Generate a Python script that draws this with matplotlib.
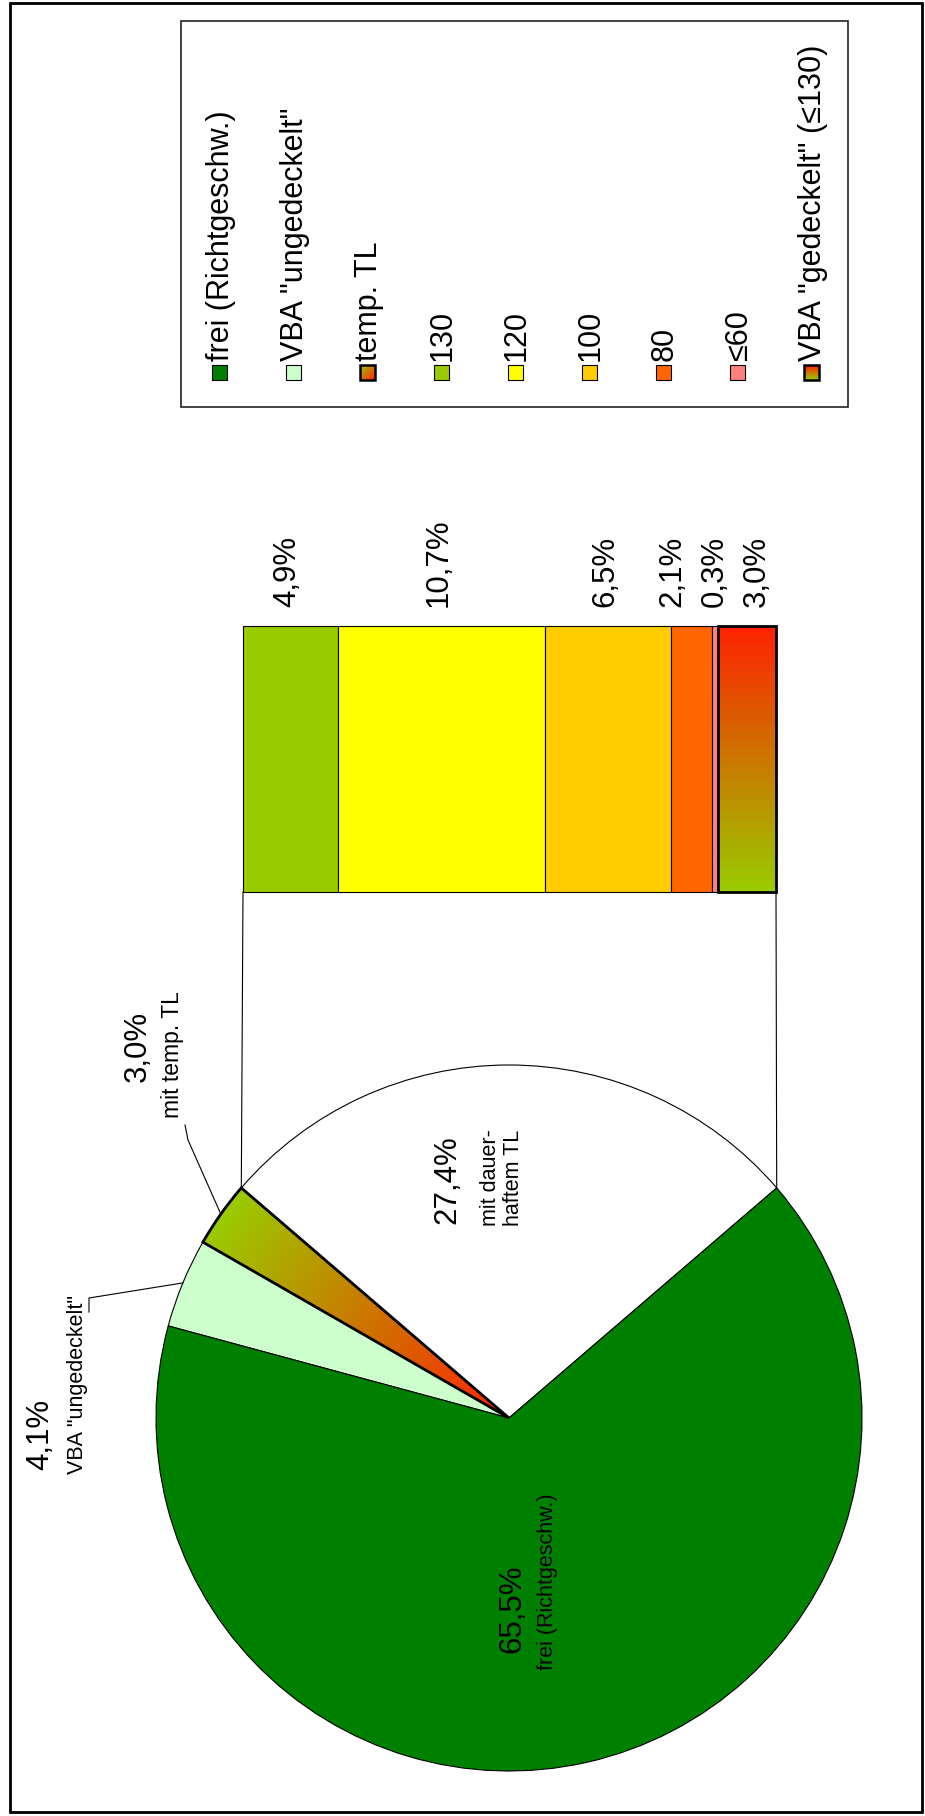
import matplotlib
matplotlib.use('Agg')
import matplotlib.pyplot as plt
import numpy as np
from matplotlib.patches import Rectangle
from matplotlib.colors import to_rgb

plt.rcParams['font.family'] = ['Liberation Sans', 'DejaVu Sans']

# Pie shares, counter-clockwise starting with the part that is broken out into the bar
pie_pct = [27.4, 3.0, 4.1, 65.5]
pie_names = ['mit dauer-\nhaftem TL', 'mit temp. TL', 'VBA "ungedeckelt"', 'frei (Richtgeschw.)']
pie_colors = ['white', 'none', '#CCFFCC', '#008000']

# Breakdown of the 27,4 % (bar)
bar_names = ['130', '120', '100', '80', '≤60', 'VBA "gedeckelt" (≤130)']
bar_pct = [4.9, 10.7, 6.5, 2.1, 0.3, 3.0]
bar_colors = ['#99CC00', '#FFFF00', '#FFCC00', '#FF6600', '#FF8080', 'none']

legend_labels = ['frei (Richtgeschw.)', 'VBA "ungedeckelt"', 'temp. TL', '130', '120',
                 '100', '80', '≤60', 'VBA "gedeckelt" (≤130)']
legend_colors = ['#008000', '#CCFFCC', 'diag', '#99CC00', '#FFFF00', '#FFCC00',
                 '#FF6600', '#FF8080', 'vert']

GRAD_RED = '#FF2200'
GRAD_GREEN = '#99CC00'
BIG = 22.5
SMALL = 15.5


def pct(v):
    return f'{v:.1f}%'.replace('.', ',')


def blend(c0, c1, t):
    a = np.array(to_rgb(c0))
    b = np.array(to_rgb(c1))
    t = np.clip(t, 0, 1)[..., None]
    return a * (1 - t) + b * t


fig = plt.figure(figsize=(9.25, 18.16), dpi=100)
ax = fig.add_axes([0, 0, 1, 1])

# ---- pie (y axis is inverted later, so angles run clockwise in data space)
cx, cy, r = 509, 1418, 353
start = 90 - pie_pct[0] * 3.6 / 2
wedges, _ = ax.pie(pie_pct, colors=pie_colors, center=(cx, cy), radius=r,
                   startangle=-start, counterclock=False,
                   wedgeprops=dict(edgecolor='black', linewidth=0.8))
temp_w = wedges[1]
temp_w.set_linewidth(2.0)
temp_w.set_zorder(3)

# radial gradient inside the temp. TL wedge
xs = np.linspace(cx - r, cx, 300)
ys = np.linspace(cy - r, cy, 300)
gx, gy = np.meshgrid(xs, ys)
tt = np.hypot(gx - cx, gy - cy) / r
im = ax.imshow(blend(GRAD_RED, GRAD_GREEN, tt), extent=(xs[0], xs[-1], ys[-1], ys[0]),
               origin='upper', aspect='auto', zorder=2, interpolation='bilinear')
im.set_clip_path(temp_w)

# screen angles of wedge boundaries
bounds = start + np.concatenate([[0], np.cumsum(pie_pct)]) * 3.6


def rim(angle):
    a = np.deg2rad(angle)
    return cx + r * np.cos(a), cy - r * np.sin(a)


# ---- bar
bar_x0, bar_len = 243, 533
bar_top, bar_bot = 626, 892
scale = bar_len / sum(bar_pct)
widths = np.array(bar_pct) * scale
lefts = bar_x0 + np.concatenate([[0], np.cumsum(widths)[:-1]])
bars = ax.barh((bar_top + bar_bot) / 2, widths, left=lefts, height=bar_bot - bar_top,
               color=bar_colors, edgecolor='black', linewidth=0.8, zorder=3)
ged = bars[-1]
ged.set_linewidth(2.0)
ged.set_zorder(4)
gy2 = np.linspace(0, 1, 200)[:, None] * np.ones((1, 2))
ax.imshow(blend(GRAD_RED, GRAD_GREEN, gy2),
          extent=(lefts[-1], lefts[-1] + widths[-1], bar_bot, bar_top),
          origin='upper', aspect='auto', zorder=3, interpolation='bilinear')

# bar value labels, spread apart where segments are thin
pos = lefts + widths / 2
gap = 42
for _ in range(300):
    for i in range(len(pos) - 1):
        d = pos[i + 1] - pos[i]
        if d < gap:
            s = (gap - d) / 2
            pos[i] -= s
            pos[i + 1] += s
for x, v in zip(pos, bar_pct):
    ax.text(x - 3, 607, pct(v), rotation=90, ha='center', va='bottom', fontsize=BIG)

# connector lines between pie and bar
lx, ly = rim(bounds[1])
rx, ry = rim(bounds[0])
ax.plot([bar_x0, lx], [bar_bot, ly], color='black', lw=0.8, zorder=1)
ax.plot([bar_x0 + bar_len, rx], [bar_bot, ry], color='black', lw=0.8, zorder=1)

# ---- pie labels
ax.text(447, 1224, pct(pie_pct[0]), rotation=90, ha='center', va='bottom', fontsize=BIG)
ax.text(502, 1226, pie_names[0], rotation=90, ha='center', va='bottom', fontsize=SMALL,
        multialignment='left', linespacing=1.15)

ax.text(138, 1082, pct(pie_pct[1]), rotation=90, ha='center', va='bottom', fontsize=BIG)
ax.text(173, 1118, pie_names[1], rotation=90, ha='center', va='bottom', fontsize=SMALL + 1)
mx, my = rim((bounds[1] + bounds[2]) / 2)
ax.plot([185, 188, mx], [1125, 1140, my], color='black', lw=0.8)

ax.text(40, 1470, pct(pie_pct[2]), rotation=90, ha='center', va='bottom', fontsize=BIG)
ax.text(78, 1474, pie_names[2], rotation=90, ha='center', va='bottom', fontsize=SMALL)
mx, my = rim((bounds[2] + bounds[3]) / 2)
ax.plot([89, 89, mx], [1312, 1298, my], color='black', lw=0.8)

ax.text(512, 1653, pct(pie_pct[3]), rotation=90, ha='center', va='bottom', fontsize=BIG)
ax.text(548, 1670, pie_names[3], rotation=90, ha='center', va='bottom', fontsize=SMALL)

# ---- legend
ax.add_patch(Rectangle((181, 21), 667, 386, fill=False, edgecolor='#222222', lw=1.2))
g = np.linspace(0, 1, 20)
for i, (lab, col) in enumerate(zip(legend_labels, legend_colors)):
    x = 219 + 74 * i
    if col in ('diag', 'vert'):
        sq = Rectangle((x - 7.5, 365), 15, 15, facecolor='none', edgecolor='black',
                       lw=1.8, zorder=5)
        ax.add_patch(sq)
        if col == 'diag':
            t = 1 - (g[None, :] + g[:, None]) / 2
        else:
            t = 1 - g[:, None] * np.ones((1, 20))
        gi = ax.imshow(blend(GRAD_RED, GRAD_GREEN, 1 - t) if col == 'vert'
                       else blend(GRAD_GREEN, GRAD_RED, 1 - t),
                       extent=(x - 7.5, x + 7.5, 380, 365),
                       origin='upper', aspect='auto', zorder=4)
        gi.set_clip_path(sq)
    else:
        ax.add_patch(Rectangle((x - 7.5, 365), 15, 15, facecolor=col, edgecolor='black',
                               lw=0.8, zorder=4))
    ax.text(x + 2, 361, lab, rotation=90, ha='center', va='bottom', fontsize=22)

# outer frame
ax.add_patch(Rectangle((10, 3), 912, 1809, fill=False, edgecolor='black', lw=2.0))

ax.set_xlim(0, 925)
ax.set_ylim(1816, 0)
ax.set_axis_off()
fig.savefig('out.png', dpi=100, facecolor='white')
